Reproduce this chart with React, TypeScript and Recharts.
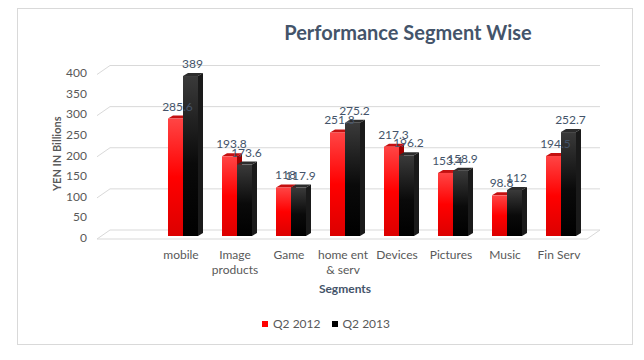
import { BarChart, Bar, XAxis, YAxis, CartesianGrid, LabelList } from 'recharts';

// first category is blank in the source sheet, leaves an empty slot on the left
const categories = ['', 'mobile', 'Image\nproducts', 'Game', 'home ent\n& serv', 'Devices', 'Pictures', 'Music', 'Fin Serv'];
const q2_2012 = [null, 285.6, 193.8, 118, 251.8, 217.3, 153.4, 98.8, 194.5];
const q2_2013 = [null, 389, 173.6, 117.9, 275.2, 196.2, 158.9, 112, 252.7];
const yTicks = [0, 50, 100, 150, 200, 250, 300, 350, 400];
const seriesNames = ['Q2 2012', 'Q2 2013'];

const data = categories.map((c, i) => ({ name: c, q12: q2_2012[i], q13: q2_2013[i] }));

const FONT = 'Lato, "Open Sans", sans-serif';
const DX = 5;
const DY = 3;

function make3D(front: string, top: string, side: string) {
  return (p: any) => {
    const { x, y, width: w, height: h } = p;
    if (p.value == null || !h) return null;
    return (
      <g>
        <path d={`M${x},${y}L${x + DX},${y - DY}L${x + w + DX},${y - DY}L${x + w},${y}Z`} fill={top} />
        <path d={`M${x + w},${y}L${x + w + DX},${y - DY}L${x + w + DX},${y + h - DY}L${x + w},${y + h}Z`} fill={side} />
        <rect x={x} y={y} width={w} height={h} fill={front} />
      </g>
    );
  };
}

const gridLine = (p: any) => {
  const { x1, x2, y1, index } = p;
  const d = `M${x1 - 5},${y1 + 3}L${x1 + 8},${y1 - 6}L${x2 + 12},${y1 - 6}`;
  if (index === 0) {
    return (
      <g key={p.key}>
        <path d={d} stroke="#D9D9D9" fill="none" />
        <path d={`M${x1 - 5},${y1 + 3}L${x2 - 1},${y1 + 3}L${x2 + 12},${y1 - 6}`} stroke="#D9D9D9" fill="none" />
      </g>
    );
  }
  return <path key={p.key} d={d} stroke="#D9D9D9" fill="none" />;
};

const XTick = (p: any) => {
  const { x, y, payload } = p;
  const lines = String(payload.value).split('\n');
  return (
    <text x={x - 2} y={y} textAnchor="middle" fill="#595959" fontSize={12} fontFamily={FONT}>
      {lines.map((l, i) => (
        <tspan key={i} x={x - 2} dy={i === 0 ? 21 : 15}>{l}</tspan>
      ))}
    </text>
  );
};

const valueLabel = (p: any) => {
  if (p.value == null) return null;
  return (
    <text x={p.x + p.width / 2 + 2} y={p.y - 8} textAnchor="middle" fill="#44546A" fontSize={12} fontFamily={FONT}>
      {p.value}
    </text>
  );
};

export default function App() {
  return (
    <div style={{ position: 'absolute', left: 0, top: 0, width: 644, height: 360, background: '#fff', fontFamily: FONT }}>
      <div style={{ position: 'absolute', left: 17, top: 8, width: 614, height: 335, border: '1px solid #D9D9D9' }} />
      <div style={{ position: 'absolute', left: 258, top: 20, width: 300, textAlign: 'center', fontSize: 20, fontWeight: 700, color: '#44546A' }}>
        Performance Segment Wise
      </div>
      <div style={{ position: 'absolute', left: 0, top: 0 }}>
        <BarChart width={644} height={360} data={data} barGap={0} margin={{ top: 71.5, right: 56, bottom: 64, left: 52 }}>
          <defs>
            <linearGradient id="redFront" x1="0" y1="0" x2="0" y2="1">
              <stop offset="0%" stopColor="#FF4545" />
              <stop offset="50%" stopColor="#FF0000" />
              <stop offset="100%" stopColor="#DC0000" />
            </linearGradient>
            <linearGradient id="blackFront" x1="0" y1="0" x2="0" y2="1">
              <stop offset="0%" stopColor="#3A3A3A" />
              <stop offset="55%" stopColor="#0A0A0A" />
              <stop offset="100%" stopColor="#000000" />
            </linearGradient>
          </defs>
          <CartesianGrid vertical={false} horizontal={gridLine} />
          <XAxis
            dataKey="name"
            axisLine={false}
            tickLine={false}
            tickSize={0}
            interval={0}
            height={60}
            tick={XTick}
            label={{ value: 'Segments', position: 'insideBottom', offset: 3, fill: '#44546A', fontSize: 12, fontWeight: 700, fontFamily: FONT }}
          />
          <YAxis
            domain={[0, 400]}
            ticks={yTicks}
            width={50}
            axisLine={false}
            tickLine={false}
            tickSize={0}
            tickMargin={15}
            tick={{ fill: '#595959', fontSize: 12, fontFamily: FONT, dy: 1.5 }}
            label={{ value: 'YEN IN Billions', angle: -90, position: 'insideLeft', offset: 5, fill: '#595959', fontSize: 11, fontWeight: 700, fontFamily: FONT, style: { textAnchor: 'middle' } }}
          />
          <Bar dataKey="q12" name={seriesNames[0]} barSize={15} isAnimationActive={false} shape={make3D('url(#redFront)', '#C41010', '#A00000')}>
            <LabelList dataKey="q12" content={valueLabel} />
          </Bar>
          <Bar dataKey="q13" name={seriesNames[1]} barSize={15} isAnimationActive={false} shape={make3D('url(#blackFront)', '#2C2C2C', '#1A1A1A')}>
            <LabelList dataKey="q13" content={valueLabel} />
          </Bar>
        </BarChart>
      </div>
      <div style={{ position: 'absolute', left: 0, top: 316, width: 652, display: 'flex', justifyContent: 'center', fontSize: 12, color: '#595959' }}>
        {seriesNames.map((n, i) => (
          <div key={n} style={{ display: 'flex', alignItems: 'center', marginRight: i === 0 ? 11 : 0 }}>
            <span style={{ display: 'inline-block', width: 6, height: 6, background: i === 0 ? '#FF0000' : '#000', marginRight: 5 }} />
            {n}
          </div>
        ))}
      </div>
    </div>
  );
}
